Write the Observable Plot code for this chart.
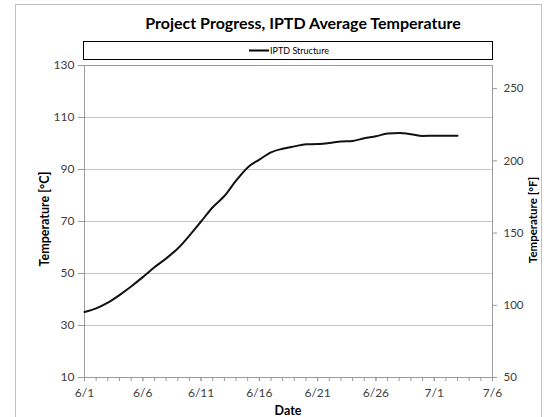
<!DOCTYPE html>
<html><head><meta charset="utf-8">
<script src="https://cdn.jsdelivr.net/npm/d3@7"></script>
<script src="https://cdn.jsdelivr.net/npm/@observablehq/plot@0.6"></script>
<style>
body{margin:0;background:#fff;}
#wrap{position:relative;width:544px;height:417px;overflow:hidden;font-family:Lato,"Open Sans",sans-serif;}
#chart{position:absolute;left:0;top:0;}
#overlay{position:absolute;left:0;top:0;pointer-events:none;font-family:Lato,"Open Sans",sans-serif;}
</style></head><body>
<div id="wrap">
<div id="chart"></div>
<svg id="overlay" width="544" height="417"></svg>
</div>
<script>
const titleText = "Project Progress, IPTD Average Temperature";
const seriesName = "IPTD Structure";
const xLabel = "Date";
const yLabelC = "Temperature [°C]";
const yLabelF = "Temperature [°F]";

const dates = ["6/1","6/2","6/3","6/4","6/5","6/6","6/7","6/8","6/9","6/10","6/11","6/12","6/13","6/14","6/15","6/16","6/17","6/18","6/19","6/20","6/21","6/22","6/23","6/24","6/25","6/26","6/27","6/28","6/29","6/30","7/1","7/2","7/3"];
const temps = [35.2,36.6,38.8,41.7,45.0,48.6,52.4,55.8,59.6,64.6,70.0,75.5,79.8,85.7,90.8,93.8,96.6,98.0,98.9,99.7,99.8,100.2,100.8,101.0,102.0,102.8,103.8,104.0,103.6,102.9,103.0,103.0,103.0];

const xTickLabels = ["6/1","6/6","6/11","6/16","6/21","6/26","7/1","7/6"];
const yTicksC = [10,30,50,70,90,110,130];
const yTicksF = [50,100,150,200,250];

const YEAR = 2014;
const parse = s => { const [m,d] = s.split("/").map(Number); return new Date(Date.UTC(YEAR, m-1, d)); };
const data = dates.map((d,i) => ({date: parse(d), temp: temps[i]}));
const xTickDates = xTickLabels.map(parse);
const xDomain = [xTickDates[0], xTickDates[xTickDates.length-1]];
const dailyTicks = d3.utcDay.range(xDomain[0], d3.utcDay.offset(xDomain[1], 1));
const fmt = d => `${d.getUTCMonth()+1}/${d.getUTCDate()}`;

const plot = Plot.plot({
  width: 544, height: 417,
  marginLeft: 84, marginRight: 52, marginTop: 65, marginBottom: 40,
  style: {fontFamily: "Lato, 'Open Sans', sans-serif", fontSize: "12px", color: "#404040", background: "transparent"},
  x: {type: "utc", domain: xDomain},
  y: {domain: [10, 130]},
  marks: [
    Plot.gridY(yTicksC.slice(1, -1), {stroke: "#c4c4c4", strokeOpacity: 1}),
    Plot.frame({stroke: "#9a9a9a"}),
    Plot.axisX(dailyTicks, {tickSize: 4, tickFormat: () => "", label: null, stroke: "#9a9a9a"}),
    Plot.axisX(xTickDates, {tickSize: 4, tickPadding: 7, tickFormat: fmt, label: null, stroke: "#9a9a9a", fill: "#404040"}),
    Plot.axisY(yTicksC, {anchor: "left", tickSize: 6, tickPadding: 4, label: null, stroke: "#9a9a9a", fill: "#404040"}),
    Plot.axisY(yTicksF.map(f => (f - 32) * 5 / 9), {anchor: "right", tickSize: 4, tickPadding: 7, fontSize: 11.5, tickFormat: c => Math.round(c * 9 / 5 + 32), label: null, stroke: "#9a9a9a", fill: "#404040"}),
    Plot.line(data, {x: "date", y: "temp", curve: "monotone-x", stroke: "#111", strokeWidth: 2})
  ]
});
document.getElementById("chart").appendChild(plot);

const ov = d3.select("#overlay");
ov.append("rect").attr("x", 15.5).attr("y", 4.5).attr("width", 526).attr("height", 430).attr("fill", "none").attr("stroke", "#bfbfbf");
ov.append("text").attr("x", 303).attr("y", 29).attr("text-anchor", "middle").attr("font-weight", "bold").attr("font-size", 16).attr("fill", "#000").text(titleText);
ov.append("rect").attr("x", 83.5).attr("y", 41.5).attr("width", 409).attr("height", 18).attr("fill", "#fff").attr("stroke", "#000");
ov.append("line").attr("x1", 249).attr("x2", 269).attr("y1", 50.5).attr("y2", 50.5).attr("stroke", "#000").attr("stroke-width", 2);
ov.append("text").attr("x", 270).attr("y", 53.5).attr("font-size", 9).attr("fill", "#000").text(seriesName);
ov.append("text").attr("x", 288).attr("y", 415).attr("text-anchor", "middle").attr("font-weight", "bold").attr("font-size", 12.5).attr("fill", "#000").text(xLabel);
ov.append("text").attr("transform", "translate(49,219) rotate(-90)").attr("text-anchor", "middle").attr("font-weight", "bold").attr("font-size", 12.5).attr("fill", "#000").text(yLabelC);
ov.append("text").attr("transform", "translate(537,220) rotate(-90)").attr("text-anchor", "middle").attr("font-weight", "bold").attr("font-size", 11.5).attr("fill", "#000").text(yLabelF);
</script>
</body></html>
